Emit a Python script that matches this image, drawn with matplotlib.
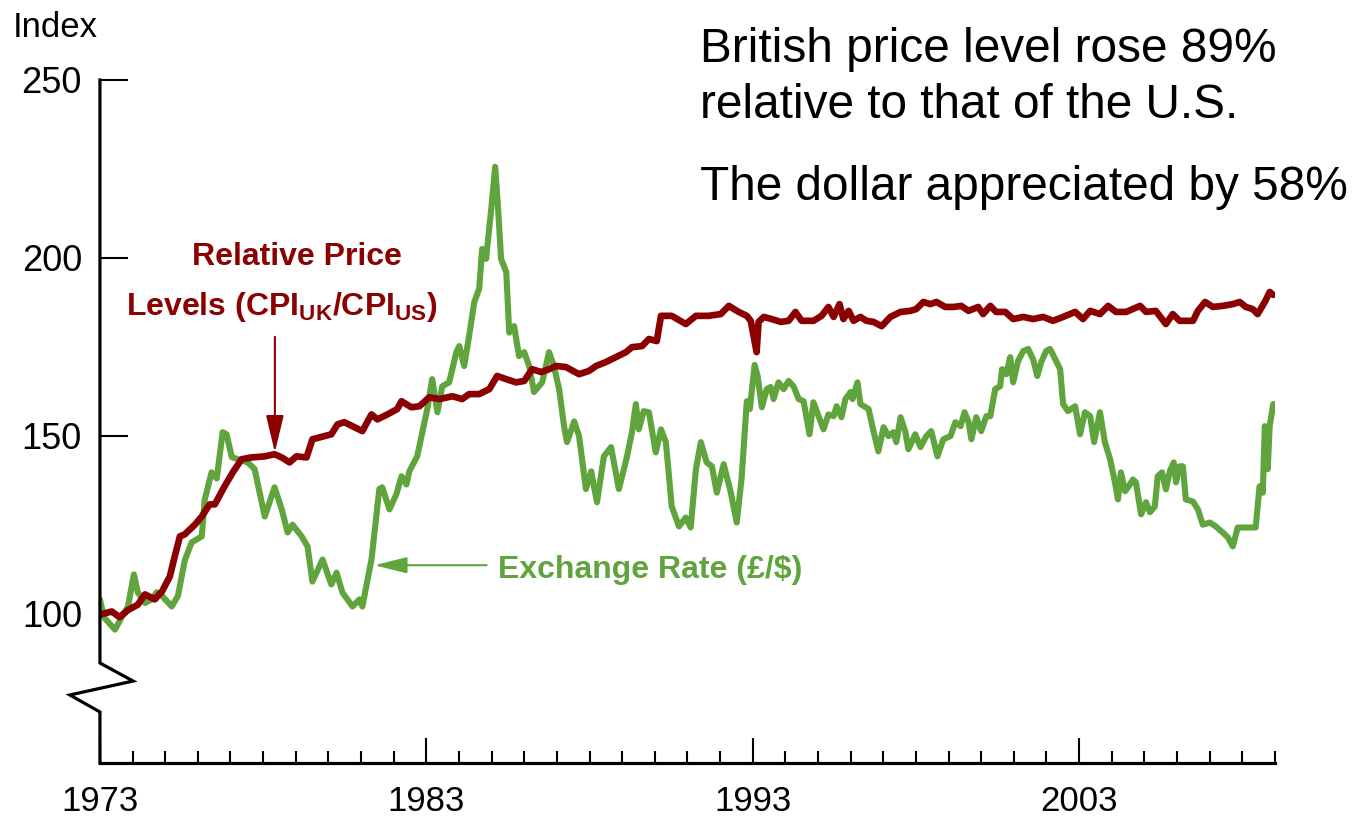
import matplotlib
matplotlib.use("Agg")
import matplotlib.pyplot as plt
from matplotlib.ticker import MultipleLocator

plt.rcParams['font.family'] = ['Liberation Sans', 'DejaVu Sans']
plt.rcParams['mathtext.fontset'] = 'custom'
plt.rcParams['mathtext.rm'] = 'Liberation Sans'
plt.rcParams['mathtext.bf'] = 'Liberation Sans:bold'

# Exchange rate (pound per dollar), index 1973 = 100
fx_years = [1973.00, 1973.12, 1973.46, 1973.67, 1973.86, 1974.04, 1974.16, 1974.38, 1974.59, 1974.74,
            1974.90, 1975.20, 1975.39, 1975.60, 1975.81, 1976.12, 1976.21, 1976.42, 1976.58, 1976.76,
            1976.88, 1977.04, 1977.22, 1977.53, 1977.74, 1978.05, 1978.35, 1978.57, 1978.75, 1978.90,
            1979.18, 1979.36, 1979.51, 1979.82, 1980.09, 1980.25, 1980.43, 1980.74, 1980.95, 1981.04,
            1981.32, 1981.56, 1981.65, 1981.87, 1982.08, 1982.24, 1982.39, 1982.48, 1982.72, 1982.88,
            1983.03, 1983.18, 1983.34, 1983.49, 1983.70, 1983.92, 1984.01, 1984.16, 1984.31, 1984.47,
            1984.62, 1984.71, 1984.83, 1984.99, 1985.11, 1985.20, 1985.29, 1985.45, 1985.54, 1985.69,
            1985.84, 1986.00, 1986.15, 1986.30, 1986.55, 1986.76, 1986.91, 1987.07, 1987.22, 1987.31,
            1987.53, 1987.68, 1987.89, 1988.05, 1988.23, 1988.44, 1988.66, 1988.90, 1989.15, 1989.30,
            1989.42, 1989.51, 1989.66, 1989.82, 1990.03, 1990.19, 1990.34, 1990.52, 1990.74, 1990.95,
            1991.10, 1991.26, 1991.41, 1991.59, 1991.75, 1991.90, 1992.11, 1992.33, 1992.51, 1992.66,
            1992.82, 1992.91, 1993.06, 1993.15, 1993.28, 1993.43, 1993.55, 1993.64, 1993.79, 1993.95,
            1994.10, 1994.25, 1994.41, 1994.56, 1994.74, 1994.86, 1995.02, 1995.17, 1995.32, 1995.48,
            1995.57, 1995.72, 1995.84, 1996.00, 1996.06, 1996.21, 1996.30, 1996.55, 1996.70, 1996.85,
            1997.01, 1997.16, 1997.31, 1997.40, 1997.53, 1997.68, 1997.77, 1997.98, 1998.14, 1998.32,
            1998.47, 1998.66, 1998.84, 1999.06, 1999.21, 1999.37, 1999.49, 1999.61, 1999.70, 1999.85,
            2000.00, 2000.16, 2000.28, 2000.43, 2000.58, 2000.64, 2000.77, 2000.89, 2000.98, 2001.13,
            2001.29, 2001.44, 2001.59, 2001.72, 2001.84, 2001.99, 2002.11, 2002.27, 2002.42, 2002.51,
            2002.66, 2002.88, 2003.03, 2003.18, 2003.34, 2003.46, 2003.64, 2003.79, 2003.95, 2004.10,
            2004.19, 2004.28, 2004.41, 2004.50, 2004.65, 2004.74, 2004.90, 2005.05, 2005.17, 2005.32,
            2005.41, 2005.54, 2005.66, 2005.78, 2005.90, 2005.97, 2006.08, 2006.18, 2006.27, 2006.49,
            2006.64, 2006.79, 2007.01, 2007.19, 2007.40, 2007.56, 2007.71, 2007.86, 2008.11, 2008.41,
            2008.53, 2008.63, 2008.69, 2008.78, 2008.84, 2008.95]
fx_values = [104.0, 99.0, 95.5, 99.0, 102.0, 111.0, 106.0, 103.0, 104.0, 106.0,
             105.0, 102.0, 105.0, 115.0, 120.0, 121.7, 132.0, 139.7, 138.0, 151.0,
             150.4, 144.0, 143.4, 142.5, 140.6, 127.3, 135.5, 129.3, 122.8, 125.0,
             121.7, 118.9, 109.0, 115.2, 108.2, 111.5, 105.9, 102.0, 104.0, 102.0,
             115.2, 135.0, 135.5, 129.3, 133.5, 138.6, 136.3, 140.0, 144.2, 151.0,
             157.5, 165.9, 156.6, 163.9, 165.0, 173.5, 175.2, 169.6, 178.0, 187.6,
             191.3, 202.5, 199.7, 213.8, 225.6, 213.8, 199.7, 196.0, 179.0, 180.8,
             172.4, 173.5, 169.6, 162.3, 165.0, 173.5, 169.6, 163.0, 152.7, 148.2,
             154.0, 149.9, 135.0, 140.0, 131.3, 144.2, 146.8, 135.0, 144.2, 151.0,
             158.9, 151.8, 156.9, 156.6, 145.3, 151.8, 148.2, 130.1, 124.5, 127.0,
             124.2, 140.6, 148.2, 142.5, 141.4, 134.0, 142.0, 134.0, 125.6, 138.0,
             159.7, 157.5, 169.9, 166.8, 158.0, 163.1, 163.7, 160.3, 165.0, 163.1,
             165.4, 163.9, 160.3, 159.7, 150.4, 159.4, 155.5, 151.8, 156.0, 155.5,
             158.3, 155.2, 160.3, 162.3, 160.3, 165.0, 158.9, 157.5, 151.3, 145.6,
             152.4, 149.9, 151.0, 148.2, 155.2, 151.0, 146.2, 150.4, 146.8, 149.9,
             151.3, 144.2, 149.0, 149.9, 153.8, 152.7, 156.6, 154.0, 149.0, 155.2,
             151.3, 155.5, 155.5, 163.1, 163.9, 168.7, 167.3, 172.1, 165.0, 171.0,
             173.8, 174.4, 171.5, 166.8, 170.7, 173.8, 174.4, 171.5, 168.7, 158.9,
             156.9, 158.3, 150.4, 156.6, 155.5, 148.2, 156.6, 148.2, 143.4, 136.9,
             132.1, 139.7, 134.4, 135.5, 137.7, 136.9, 127.9, 131.3, 128.5, 130.1,
             138.6, 139.7, 134.9, 140.0, 142.5, 136.9, 141.4, 141.4, 132.1, 131.5,
             129.3, 125.0, 125.6, 124.5, 122.8, 121.4, 118.9, 124.2, 124.2, 124.2,
             135.8, 134.0, 152.7, 140.6, 152.7, 158.9]

# Relative price levels CPI_UK / CPI_US, index 1973 = 100
cpi_years = [1973.00, 1973.36, 1973.60, 1973.86, 1974.16, 1974.38, 1974.68, 1974.90, 1975.14, 1975.29,
             1975.45, 1975.60, 1975.91, 1976.12, 1976.36, 1976.52, 1976.82, 1977.07, 1977.34, 1977.65,
             1978.05, 1978.35, 1978.57, 1978.81, 1979.02, 1979.33, 1979.51, 1979.88, 1980.09, 1980.28,
             1980.49, 1980.80, 1981.04, 1981.32, 1981.50, 1981.81, 1982.11, 1982.24, 1982.54, 1982.79,
             1983.09, 1983.40, 1983.80, 1984.10, 1984.31, 1984.62, 1984.93, 1985.17, 1985.45, 1985.75,
             1986.00, 1986.24, 1986.52, 1986.76, 1986.98, 1987.28, 1987.68, 1987.98, 1988.20, 1988.50,
             1988.81, 1989.12, 1989.30, 1989.61, 1989.82, 1990.06, 1990.19, 1990.52, 1990.95, 1991.26,
             1991.65, 1992.02, 1992.27, 1992.57, 1992.82, 1992.94, 1993.12, 1993.18, 1993.34, 1993.58,
             1993.86, 1994.10, 1994.31, 1994.50, 1994.86, 1995.11, 1995.32, 1995.48, 1995.66, 1995.78,
             1995.94, 1996.09, 1996.30, 1996.49, 1996.70, 1996.95, 1997.22, 1997.53, 1997.83, 1998.01,
             1998.23, 1998.44, 1998.63, 1998.90, 1999.15, 1999.39, 1999.61, 1999.91, 2000.06, 2000.28,
             2000.46, 2000.74, 2000.98, 2001.29, 2001.59, 2001.90, 2002.20, 2002.51, 2002.88, 2003.12,
             2003.34, 2003.64, 2003.89, 2004.13, 2004.44, 2004.87, 2005.05, 2005.35, 2005.66, 2005.87,
             2006.08, 2006.49, 2006.64, 2006.86, 2007.10, 2007.40, 2007.71, 2007.92, 2008.11, 2008.32,
             2008.47, 2008.69, 2008.84, 2008.95]
cpi_values = [99.7, 100.6, 99.0, 101.0, 102.5, 105.4, 104.0, 106.2, 110.4, 116.0,
              121.7, 122.3, 125.0, 127.3, 130.7, 130.7, 135.8, 139.7, 143.4, 143.9,
              144.2, 144.8, 143.9, 142.5, 144.2, 143.9, 149.0, 149.9, 150.4, 153.2,
              153.8, 152.4, 151.3, 156.0, 154.6, 156.0, 157.5, 159.7, 158.0, 158.3,
              160.8, 160.3, 161.1, 160.3, 161.7, 161.7, 163.1, 166.8, 165.9, 165.0,
              165.4, 168.7, 167.9, 168.7, 169.6, 169.3, 167.3, 168.2, 169.6, 170.7,
              172.1, 173.5, 174.9, 175.2, 177.2, 176.6, 183.7, 183.7, 181.4, 183.7,
              183.7, 184.2, 186.5, 184.8, 183.7, 182.3, 173.5, 182.0, 183.4, 182.8,
              182.0, 182.3, 184.8, 182.3, 182.3, 183.7, 186.2, 183.4, 187.0, 182.8,
              185.1, 182.3, 183.4, 182.3, 182.0, 180.8, 183.4, 184.8, 185.1, 185.6,
              187.6, 187.0, 187.6, 186.2, 186.2, 186.5, 185.1, 186.2, 184.2, 186.5,
              184.8, 184.8, 182.8, 183.4, 182.8, 183.4, 182.3, 183.4, 184.8, 182.8,
              185.1, 184.2, 186.5, 184.8, 184.8, 186.5, 184.8, 185.1, 181.4, 184.2,
              182.3, 182.3, 185.1, 187.6, 186.2, 186.5, 187.0, 187.6, 186.2, 185.6,
              184.2, 187.6, 190.4, 189.6]

y_ticks = [100, 150, 200, 250]
x_major = [1973, 1983, 1993, 2003]

RED = '#8b0000'
GREEN = '#5fa43c'

fig = plt.figure(figsize=(13.56, 8.23), dpi=100)
ax = fig.add_axes([0.0737, 0.0729, 0.8665, 0.8299])

ax.plot(fx_years, fx_values, color=GREEN, lw=4.4, solid_joinstyle='round',
        solid_capstyle='round', zorder=3)
ax.plot(cpi_years, cpi_values, color=RED, lw=4.8, solid_joinstyle='round',
        solid_capstyle='round', zorder=4)

ax.set_xlim(1973, 2009)
ax.set_ylim(58, 250)

# spines: only bottom is a real spine, left one drawn by hand with a break
for s in ['top', 'right', 'left']:
    ax.spines[s].set_visible(False)
ax.spines['bottom'].set_linewidth(2.3)
ax.plot([0, 0, 0.0282, -0.0256, 0, 0],
        [1.0, 0.1464, 0.120, 0.0996, 0.0747, 0.0],
        transform=ax.transAxes, color='black', lw=2.3, clip_on=False,
        solid_joinstyle='miter', zorder=5)

ax.set_yticks(y_ticks)
ax.tick_params(axis='y', direction='in', length=20, width=1.5, pad=13,
               labelsize=26, left=True)
ax.set_xticks(x_major)
ax.xaxis.set_minor_locator(MultipleLocator(1))
ax.tick_params(axis='x', which='major', direction='in', length=18, width=1.5,
               pad=15.5, labelsize=25)
ax.tick_params(axis='x', which='minor', direction='in', length=8.5, width=1.5)

fig.text(13 / 1356, 1 - 37 / 823, 'Index', fontsize=25, va='baseline', ha='left')

# series labels and arrows
ax.text(1979.04, 198.0, 'Relative Price', color=RED, fontsize=23,
        fontweight='bold', ha='center', va='baseline')
ax.text(1978.56, 183.9, r'Levels (CPI$_{\mathbf{UK}}$/CPI$_{\mathbf{US}}$)', color=RED,
        fontsize=23, fontweight='bold', ha='center', va='baseline')
ax.annotate('', xy=(1978.36, 145.3), xytext=(1978.36, 177.8),
            arrowprops=dict(arrowstyle='-|>,head_length=2.3,head_width=0.55',
                            color=RED, lw=1.5, shrinkA=0, shrinkB=0), zorder=6)

ax.text(1985.19, 110.0, 'Exchange Rate (£/$)', color=GREEN, fontsize=23,
        fontweight='bold', ha='left', va='baseline')
ax.annotate('', xy=(1981.41, 113.6), xytext=(1984.85, 113.6),
            arrowprops=dict(arrowstyle='-|>,head_length=2.0,head_width=0.5',
                            color=GREEN, lw=1.5, shrinkA=0, shrinkB=0), zorder=6)

fig.text(700 / 1356, 1 - 62 / 823, 'British price level rose 89%', fontsize=34.4,
         va='baseline', ha='left')
fig.text(700 / 1356, 1 - 118 / 823, 'relative to that of the U.S.', fontsize=34.4,
         va='baseline', ha='left')
fig.text(700 / 1356, 1 - 200 / 823, 'The dollar appreciated by 58%', fontsize=34.4,
         va='baseline', ha='left')

fig.savefig('out.png', dpi=100)
